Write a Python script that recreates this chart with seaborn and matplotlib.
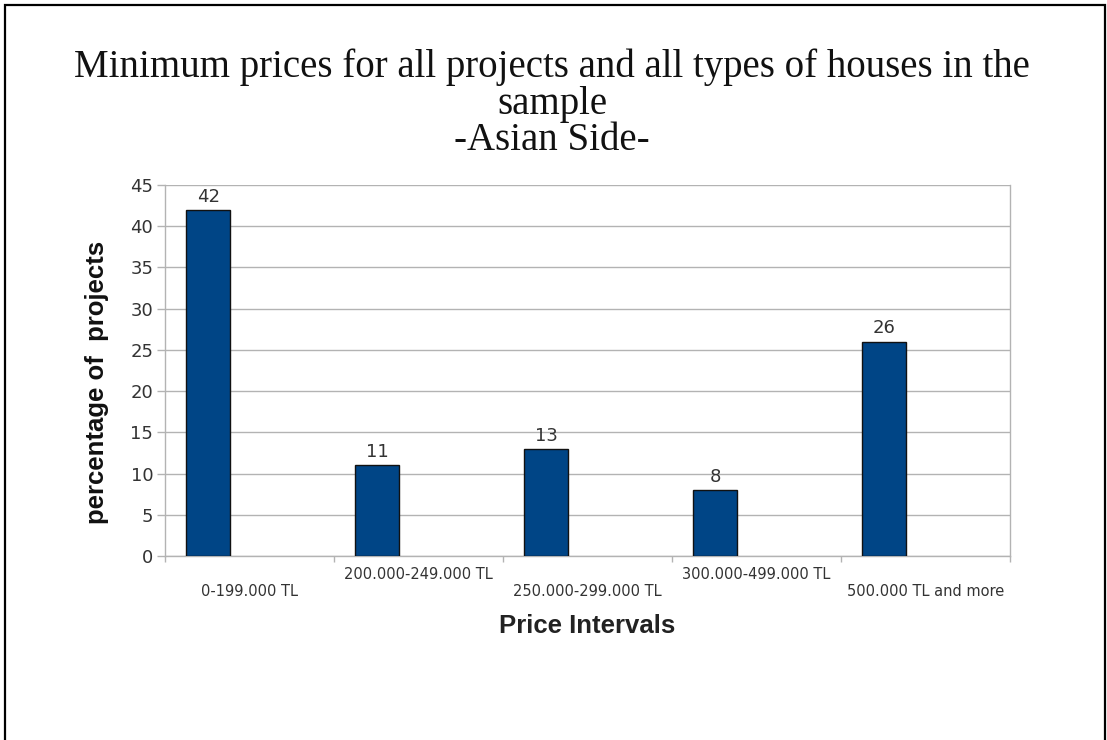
import matplotlib
matplotlib.use("Agg")
import matplotlib.pyplot as plt
from matplotlib.patches import Rectangle
from matplotlib.ticker import MultipleLocator, FixedLocator
import numpy as np
import pandas as pd
import seaborn as sns

# Price intervals and share of projects (%) in each
categories = ["0-199.000 TL", "200.000-249.000 TL", "250.000-299.000 TL",
              "300.000-499.000 TL", "500.000 TL and more"]
percentages = [42, 11, 13, 8, 26]
# second (empty) series slot, as in the original spreadsheet chart
empty_series = [np.nan] * len(categories)

title = ("Minimum prices for all projects and all types of houses in the\n"
         "sample\n-Asian Side-")
x_label = "Price Intervals"
y_label = "percentage of  projects"

df = pd.DataFrame({
    "interval": categories * 2,
    "value": percentages + empty_series,
    "series": ["Asian Side"] * len(categories) + ["blank"] * len(categories),
})

sns.set_theme(style="white")
plt.rcParams["font.family"] = ["DejaVu Sans"]

fig = plt.figure(figsize=(11.07, 7.4), dpi=100)
ax = fig.add_axes([165 / 1107, 1 - 556 / 740, (1010 - 165) / 1107, (556 - 185) / 740])

sns.barplot(data=df, x="interval", y="value", hue="series",
            palette=["#004586", "#ff420e"], saturation=1, width=0.98, gap=0.47,
            edgecolor="#111111", linewidth=1.0, legend=False, ax=ax,
            order=categories, errorbar=None, zorder=3)

ax.set_ylim(0, 45)
ax.set_xlim(-0.5, len(categories) - 0.5)
ax.yaxis.set_major_locator(MultipleLocator(5))
ax.grid(axis="y", color="#b3b3b3", linewidth=1.0, zorder=0)
ax.set_axisbelow(True)
for s in ax.spines.values():
    s.set_color("#b3b3b3")
    s.set_linewidth(1.0)
    s.set_visible(True)
ax.spines["top"].set_visible(False)

ax.tick_params(axis="y", which="major", left=True, length=5.5, width=1.0,
               color="#b3b3b3", pad=3, labelsize=13, labelcolor="#333333")
ax.tick_params(axis="x", which="major", bottom=False, labelsize=10.5,
               labelcolor="#333333")
ax.xaxis.set_minor_locator(FixedLocator(np.arange(-0.5, len(categories), 1.0)))
ax.tick_params(axis="x", which="minor", bottom=True, length=4.5, width=1.0,
               color="#b3b3b3")

# staggered category labels
for i, t in enumerate(ax.xaxis.get_major_ticks()):
    t.set_pad(14 if i % 2 == 0 else 2)

ax.bar_label(ax.containers[0], labels=[str(v) for v in percentages],
             padding=3, fontsize=13, color="#333333")

ax.set_xlabel(x_label, family="Liberation Sans", fontweight="bold",
              fontsize=18.5, color="#222222", labelpad=11)
ax.set_ylabel(y_label, family="Liberation Sans", fontweight="bold",
              fontsize=18.5, color="#111111")
ax.yaxis.set_label_coords(-0.066, 0.469)

fig.text(552 / 1107, 1 - 104 / 740, title, ha="center", va="center",
         family="Liberation Serif", fontsize=28, linespacing=0.98, color="#111111")

# page frame
fig.patches.append(Rectangle((5 / 1107, -0.05), 1100 / 1107, 1.05 - 5 / 740,
                             transform=fig.transFigure, fill=False,
                             edgecolor="black", linewidth=1.6))

fig.savefig("out.png", dpi=100, facecolor="white")
